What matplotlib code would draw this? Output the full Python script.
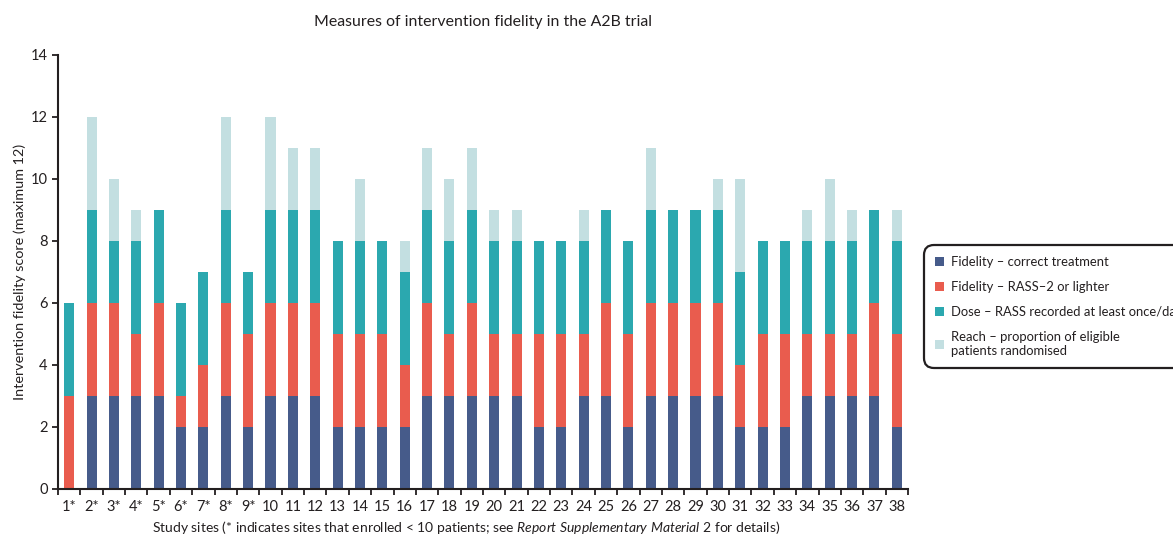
import matplotlib
matplotlib.use("Agg")
import matplotlib.pyplot as plt
import numpy as np

plt.rcParams['font.family'] = ['Lato', 'DejaVu Sans']
plt.rcParams['mathtext.fontset'] = 'custom'
plt.rcParams['mathtext.rm'] = 'Lato'
plt.rcParams['mathtext.it'] = 'Lato:italic'

# site labels (* = sites that enrolled < 10 patients)
sites = ['1*', '2*', '3*', '4*', '5*', '6*', '7*', '8*', '9*'] + [str(i) for i in range(10, 39)]

# scores per component
fid_treatment = [0, 3, 3, 3, 3, 2, 2, 3, 2, 3, 3, 3, 2, 2, 2, 2, 3, 3, 3,
                 3, 3, 2, 2, 3, 3, 2, 3, 3, 3, 3, 2, 2, 2, 3, 3, 3, 3, 2]
fid_rass = [3, 3, 3, 2, 3, 1, 2, 3, 3, 3, 3, 3, 3, 3, 3, 2, 3, 2, 3,
            2, 2, 3, 3, 2, 3, 3, 3, 3, 3, 3, 2, 3, 3, 2, 2, 2, 3, 3]
dose = [3, 3, 2, 3, 3, 3, 3, 3, 2, 3, 3, 3, 3, 3, 3, 3, 3, 3, 3,
        3, 3, 3, 3, 3, 3, 3, 3, 3, 3, 3, 3, 3, 3, 3, 3, 3, 3, 3]
reach = [0, 3, 2, 1, 0, 0, 0, 3, 0, 3, 2, 2, 0, 2, 0, 1, 2, 2, 2,
         1, 1, 0, 0, 1, 0, 0, 2, 0, 0, 1, 3, 0, 0, 1, 2, 1, 0, 1]

series = [
    (fid_treatment, 'Fidelity \u2013 correct treatment', '#465B8A'),
    (fid_rass, 'Fidelity \u2013 RASS\u20132 or lighter', '#E95C4E'),
    (dose, 'Dose \u2013 RASS recorded at least once/day', '#2BA8AF'),
    (reach, 'Reach \u2013 proportion of eligible\npatients randomised', '#C3DFE1'),
]

fig = plt.figure(figsize=(11.73, 5.34), dpi=100)
ax = fig.add_axes([58 / 1173, 45 / 534, 850 / 1173, 434 / 534])

x = np.arange(len(sites))
bottom = np.zeros(len(sites))
for vals, label, color in series:
    ax.bar(x, vals, width=0.45, bottom=bottom, color=color, label=label)
    bottom += np.array(vals)

ax.set_xlim(-0.5, len(sites) - 0.5)
ax.set_ylim(0, 14)
ax.set_yticks(range(0, 15, 2))
ax.set_xticks(x)
ax.set_xticklabels(sites, fontsize=10.5, color='#231F20')
ax.set_xticks(np.arange(-0.5, len(sites), 1), minor=True)
ax.tick_params(axis='x', which='major', length=0, pad=8)
ax.tick_params(axis='x', which='minor', length=4, width=1.3, color='#231F20')
ax.tick_params(axis='y', length=4, width=1.3, color='#231F20', labelsize=10.5, labelcolor='#231F20')

for s in ['top', 'right']:
    ax.spines[s].set_visible(False)
for s in ['left', 'bottom']:
    ax.spines[s].set_linewidth(1.5)
    ax.spines[s].set_color('#231F20')

ax.set_title('Measures of intervention fidelity in the A2B trial', fontsize=11.4, color='#231F20', pad=21)
ax.set_ylabel('Intervention fidelity score (maximum 12)', fontsize=10.4, color='#231F20', labelpad=3)
ax.set_xlabel('Study sites (* indicates sites that enrolled < 10 patients; see '
              r'$\mathit{Report\ Supplementary\ Material\ 2}$ for details)',
              fontsize=10, color='#231F20')
ax.xaxis.set_label_coords(0.48, -0.068)

leg = fig.legend(loc='upper left', bbox_to_anchor=(924 / 1173, 1 - 245 / 534),
                 borderaxespad=0, fontsize=9.4, frameon=True, fancybox=True,
                 framealpha=1, handlelength=0.7, handleheight=0.7,
                 handletextpad=0.5, labelspacing=1.0, borderpad=0.85,
                 alignment='left')
frame = leg.get_frame()
frame.set_edgecolor('#231F20')
frame.set_linewidth(1.6)
frame.set_boxstyle('round,pad=0,rounding_size=0.8')
for t in leg.get_texts():
    t.set_color('#231F20')

fig.savefig('out.png', dpi=100)
